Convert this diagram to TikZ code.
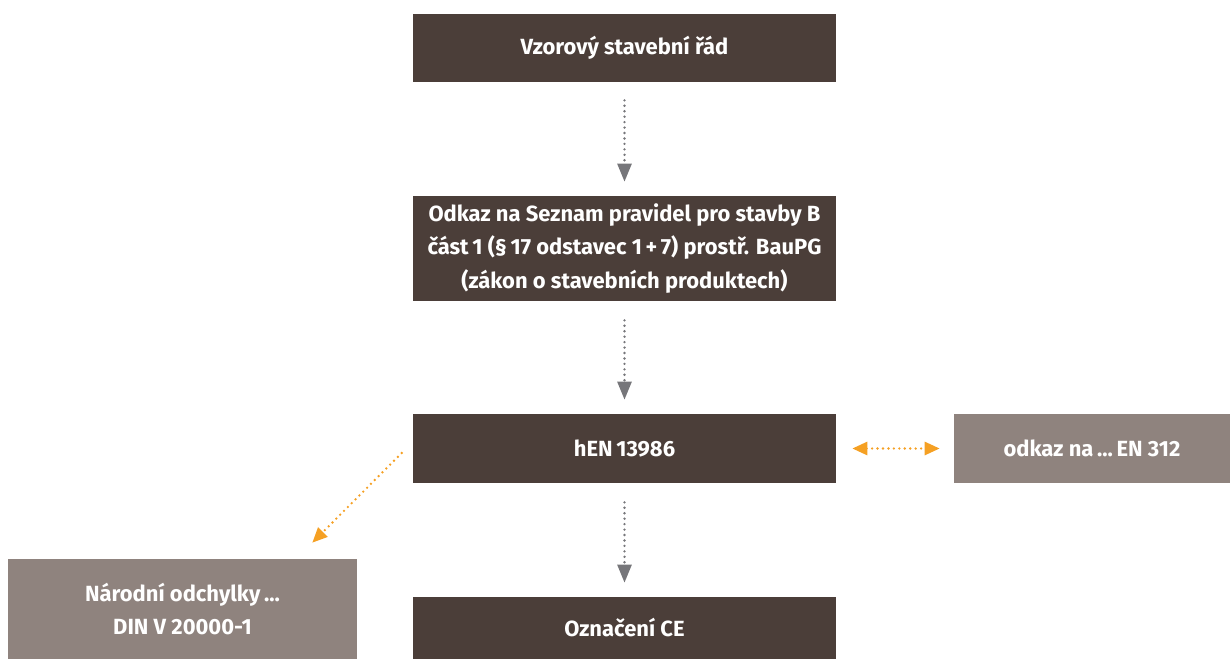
\documentclass[tikz,border=0pt]{standalone}
\usepackage{fontspec}
\setmainfont{Fira Sans}
\usetikzlibrary{arrows.meta}
\definecolor{darkbrown}{HTML}{4B3E39}
\definecolor{greybrown}{HTML}{8F837E}
\definecolor{arrowgrey}{HTML}{76767A}
\definecolor{linkorange}{HTML}{F5A023}

\begin{document}
\begin{tikzpicture}[x=0.02cm, y=-0.02cm,
    box/.style = {fill=darkbrown, text=white, align=center, inner sep=0pt,
        font=\fontsize{12.5}{19}\selectfont\bfseries},
    side/.style = {box, fill=greybrown},
    flow/.style = {draw=arrowgrey, line width=1.5pt, line cap=round,
        dash pattern=on 0pt off 3.1pt, -{Triangle[length=0.36cm, width=0.28cm]}},
    link/.style = {draw=linkorange, line width=1.5pt, line cap=round,
        dash pattern=on 0pt off 3.1pt, -{Triangle[length=0.3cm, width=0.26cm]}}]
	\useasboundingbox (0,0) rectangle (1230,659);
	\node[box, minimum width=8.46cm, minimum height=1.36cm] (rad) at (624.5, 48){Vzorový stavební řád};
	\node[box, minimum width=8.46cm, minimum height=2.1cm] (odkaz) at (624.5, 248.5){Odkaz na Seznam pravidel pro stavby B\\část\,1 (§\,17 odstavec 1\,+\,7) prostř. BauPG\\(zákon o stavebních produktech)};
	\node[box, minimum width=8.46cm, minimum height=1.38cm] (hen) at (624.5, 448.5){hEN\,13986};
	\node[side, minimum width=5.52cm, minimum height=1.38cm] (en) at (1092, 448.5){odkaz na\,...\,EN 312};
	\node[side, minimum width=6.98cm, minimum height=2cm] (din) at (182.5, 609){Národní odchylky\,...\\DIN V 20000-1};
	\node[box, minimum width=8.46cm, minimum height=1.24cm] (ce) at (624.5, 628){Označení CE};
	\draw[flow, shorten <=0.36cm, shorten >=0.28cm] (rad) -- (odkaz);
	\draw[flow, shorten <=0.38cm, shorten >=0.28cm] (odkaz) -- (hen);
	\draw[flow, shorten <=0.38cm, shorten >=0.28cm] (hen) -- (ce);
	\draw[link, {Triangle[length=0.3cm, width=0.26cm]}-{Triangle[length=0.3cm, width=0.26cm]},
	    shorten <=0.32cm, shorten >=0.28cm] (hen.east) -- (en.west);
	\draw[link] ([xshift=-0.22cm, yshift=-0.09cm]hen.west) -- ([xshift=-0.9cm, yshift=0.32cm]din.north east);
\end{tikzpicture}
\end{document}
